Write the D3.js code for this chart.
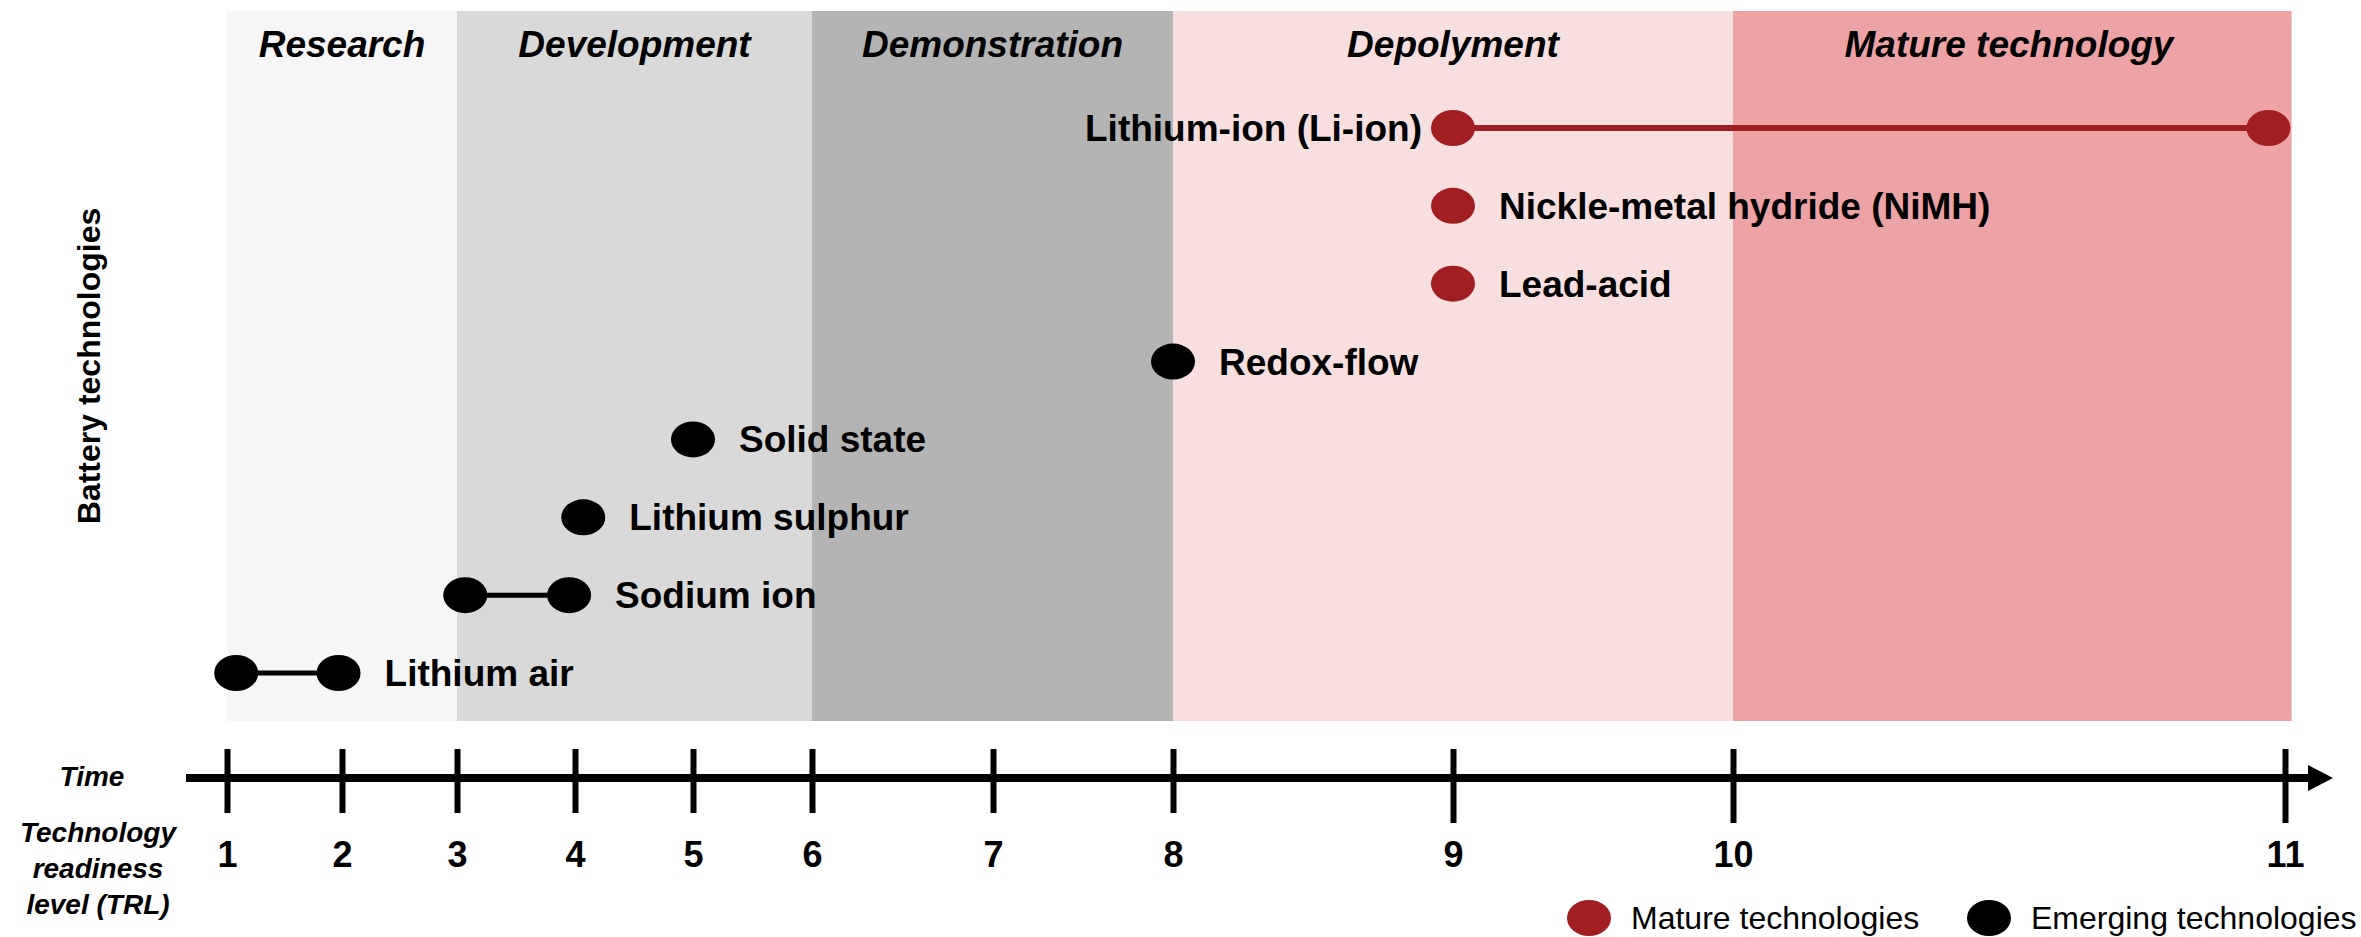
<!DOCTYPE html>
<html>
<head>
<meta charset="utf-8">
<script src="https://cdn.jsdelivr.net/npm/d3@7"></script>
<style>
  html, body { margin: 0; padding: 0; background: #fff; }
  svg { display: block; font-family: "Liberation Sans", Arial, sans-serif; }
</style>
</head>
<body>
<svg id="chart" width="2361" height="937"></svg>
<script>
// TRL levels on the time axis
const trlLevels = [1, 2, 3, 4, 5, 6, 7, 8, 9, 10, 11]

// phases, [from, to] in TRL
const phaseNames = ["Research", "Development", "Demonstration", "Depolyment", "Mature technology"]
const phaseFrom = [1, 3, 6, 8, 10]
const phaseTo = [3, 6, 8, 10, 11.012]
const phaseColors = ["#f6f6f6", "#d9d9d9", "#b4b4b4", "#f7dfdf", "#eda3a3"]

// technologies, top row first; start / end TRL
const techNames = ["Lithium-ion (Li-ion)", "Nickle-metal hydride (NiMH)", "Lead-acid", "Redox-flow",
  "Solid state", "Lithium sulphur", "Sodium ion", "Lithium air"]
const techStart = [9, 9, 9, 8, 5, 4.07, 3.07, 1.08]
const techEnd = [10.97, 9, 9, 8, 5, 4.07, 3.95, 1.97]
const techType = ["mature", "mature", "mature", "emerging", "emerging", "emerging", "emerging", "emerging"]
const labelSide = ["left", "right", "right", "right", "right", "right", "right", "right"]

const legendKeys = ["mature", "emerging"]
const legendLabels = ["Mature technologies", "Emerging technologies"]

const red = "#a11f22"
const color = d3.scaleOrdinal().domain(legendKeys).range([red, "#000"])

const svg = d3.select("#chart")

// axis is not evenly spaced in the original figure
const x = d3.scaleLinear()
  .domain(trlLevels)
  .range([227, 342, 457, 575, 693, 812, 993, 1173, 1453, 1733, 2285])

const y = d3.scalePoint().domain(techNames).range([128, 673])

const bandTop = 11, bandBottom = 721

// phase backgrounds
const phases = phaseNames.map((n, i) => ({ name: n, from: phaseFrom[i], to: phaseTo[i], fill: phaseColors[i] }))

svg.append("g").selectAll("rect")
  .data(phases)
  .join("rect")
  .attr("x", d => x(d.from))
  .attr("y", bandTop)
  .attr("width", d => x(d.to) - x(d.from))
  .attr("height", bandBottom - bandTop)
  .attr("fill", d => d.fill)

svg.append("g").selectAll("text")
  .data(phases)
  .join("text")
  .attr("x", d => (x(d.from) + x(Math.min(d.to, 11))) / 2)
  .attr("y", 57)
  .attr("text-anchor", "middle")
  .attr("font-size", 37)
  .attr("font-weight", "bold")
  .attr("font-style", "italic")
  .text(d => d.name)

// technologies
const techs = techNames.map((n, i) => ({ name: n, start: techStart[i], end: techEnd[i], type: techType[i], side: labelSide[i] }))

const rows = svg.append("g").selectAll("g")
  .data(techs)
  .join("g")
  .attr("transform", d => `translate(0,${y(d.name)})`)

rows.filter(d => d.start !== d.end)
  .append("line")
  .attr("x1", d => x(d.start))
  .attr("x2", d => x(d.end))
  .attr("stroke", d => color(d.type))
  .attr("stroke-width", d => d.type === "mature" ? 6 : 5)

rows.selectAll("ellipse")
  .data(d => (d.start === d.end ? [d.start] : [d.start, d.end]).map(v => ({ v: v, type: d.type })))
  .join("ellipse")
  .attr("cx", d => x(d.v))
  .attr("rx", 22)
  .attr("ry", 18)
  .attr("fill", d => color(d.type))

rows.append("text")
  .attr("x", d => d.side === "left" ? x(d.start) - 31 : x(d.end) + 46)
  .attr("dy", "0.35em")
  .attr("text-anchor", d => d.side === "left" ? "end" : "start")
  .attr("font-size", 37)
  .attr("font-weight", "bold")
  .text(d => d.name)

// y title
svg.append("text")
  .attr("transform", "translate(100,366) rotate(-90)")
  .attr("text-anchor", "middle")
  .attr("font-size", 32)
  .attr("font-weight", "bold")
  .text("Battery technologies")

// time axis
const axisY = 778
const axisG = svg.append("g").attr("transform", `translate(0,${axisY})`)

axisG.append("rect")
  .attr("x", 186)
  .attr("y", -4)
  .attr("width", 2312 - 186)
  .attr("height", 8)
  .attr("fill", "#000")
axisG.append("path")
  .attr("d", "M2308,-13L2333,0L2308,13Z")
  .attr("fill", "#000")

const ticks = axisG.append("g")
  .call(d3.axisBottom(x).tickValues(trlLevels).tickFormat(d3.format("d")).tickSize(0))
ticks.select(".domain").remove()
ticks.selectAll(".tick line")
  .attr("y1", -29)
  .attr("y2", d => d >= 9 ? 45 : 35)
  .attr("stroke", "#000")
  .attr("stroke-width", 6)
ticks.selectAll(".tick text")
  .attr("y", 89)
  .attr("dy", 0)
  .attr("fill", "#000")
  .attr("font-size", 36)
  .attr("font-weight", "bold")
  .attr("font-family", "'Liberation Sans', Arial, sans-serif")

svg.append("text")
  .attr("x", 92).attr("y", 786)
  .attr("text-anchor", "middle")
  .attr("font-size", 28).attr("font-weight", "bold").attr("font-style", "italic")
  .text("Time")

svg.append("text")
  .attr("x", 98).attr("y", 842)
  .attr("text-anchor", "middle")
  .attr("font-size", 28).attr("font-weight", "bold").attr("font-style", "italic")
  .selectAll("tspan")
  .data(["Technology", "readiness", "level (TRL)"])
  .join("tspan")
  .attr("x", 98)
  .attr("dy", (d, i) => i ? 36 : 0)
  .text(d => d)

// legend
const legend = svg.append("g").selectAll("g")
  .data(legendKeys)
  .join("g")
  .attr("transform", (d, i) => `translate(${[1589, 1989][i]},918)`)

legend.append("ellipse")
  .attr("rx", 22).attr("ry", 18)
  .attr("fill", d => color(d))
legend.append("text")
  .attr("x", 42)
  .attr("dy", "0.35em")
  .attr("font-size", 32)
  .text((d, i) => legendLabels[i])
</script>
</body>
</html>
